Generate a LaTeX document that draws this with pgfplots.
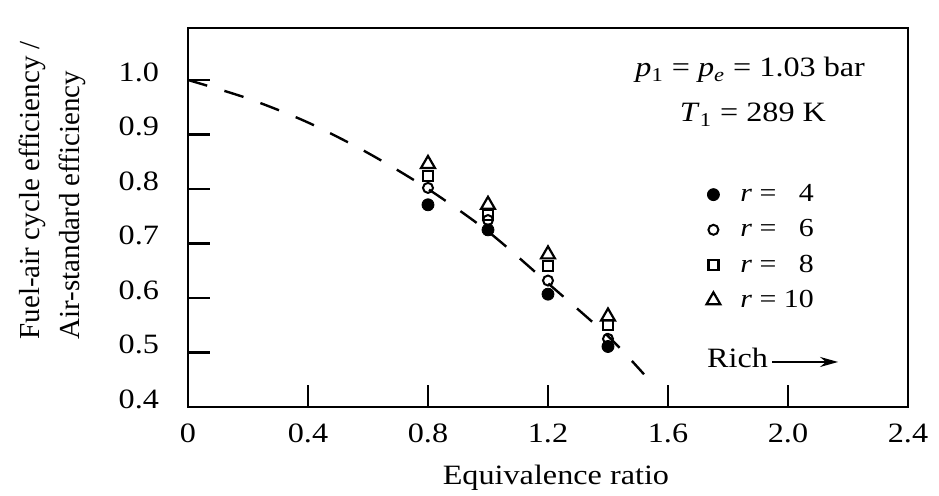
\documentclass[border=0pt]{standalone}
\usepackage{pgfplots}
\pgfplotsset{compat=1.18}
\usepackage{fontspec}
\setmainfont{Liberation Serif}[FakeStretch=1.15]
\newfontfamily\ylabfont{Liberation Serif}
\usetikzlibrary{arrows.meta}
\begin{document}
\begin{tikzpicture}[font=\fontsize{14}{17}\selectfont]
\path[use as bounding box] (-94pt,-44.5pt) rectangle (375.5pt,203.5pt);
\begin{axis}[
  at={(0,0)}, anchor=south west,
  scale only axis, width=360pt, height=189.5pt,
  xmin=0, xmax=2.4, ymin=0.4, ymax=1.0954,
  axis line style={line width=1.4pt},
  xtick={0,0.4,0.8,1.2,1.6,2.0,2.4},
  xticklabels={0,0.4,0.8,1.2,1.6,2.0,2.4},
  ytick={0.4,0.5,0.6,0.7,0.8,0.9,1.0},
  yticklabels={0.4,0.5,0.6,0.7,0.8,0.9,1.0},
  tick align=inside, tick pos=left,
  major tick length=11pt,
  tick style={line width=1.2pt, black},
  tick label style={font=\fontsize{14}{16}\selectfont},
  xticklabel style={yshift=-5pt},
  yticklabel style={xshift=-11pt, yshift=4pt},
  clip=false,
  legend cell align=left,
  legend style={at={(axis cs:1.707,0.8235)}, anchor=north west, draw=none, fill=none,
    font=\fontsize{13}{15}\selectfont, row sep=3.5pt,
    /tikz/every odd column/.append style={column sep=8pt}},
]
\addplot[black, line width=1.2pt, dash pattern=on 10pt off 9pt, smooth, forget plot] coordinates {
 (0,1.0) (0.2,0.966) (0.4,0.922) (0.6,0.866) (0.8,0.800) (1.0,0.722) (1.2,0.627) (1.4,0.530) (1.52,0.460)};
\addplot[only marks, mark=*, mark size=3pt, black] coordinates {
 (0.8,0.771) (1.0,0.725) (1.2,0.607) (1.4,0.511)};
\addlegendentry{\textit{r} = \hphantom{1}4}
\addplot[only marks, mark=o, mark size=2.5pt, black, mark options={line width=1pt}] coordinates {
 (0.8,0.802) (1.0,0.743) (1.2,0.632) (1.4,0.525)};
\addlegendentry{\textit{r} = \hphantom{1}6}
\addplot[only marks, mark=square, mark size=2.5pt, black, mark options={line width=1.1pt}] coordinates {
 (0.8,0.824) (1.0,0.752) (1.2,0.659) (1.4,0.550)};
\addlegendentry{\textit{r} = \hphantom{1}8}
\addplot[only marks, mark=triangle, mark size=4pt, black, mark options={line width=1.1pt}] coordinates {
 (0.8,0.846) (1.0,0.771) (1.2,0.680) (1.4,0.566)};
\addlegendentry{\textit{r} = 10}
\node[anchor=base east] at (axis cs:2.28,1.0055) {\textit{p}\textsubscript{1} = \textit{p}\textsubscript{\textit{e}} = 1.03 bar};
\node[anchor=base east] at (axis cs:2.15,0.923) {\textit{T}\textsubscript{1} = 289 K};
\node[anchor=base west] at (axis cs:1.707,0.4716) {Rich};
\draw[line width=1pt, -{Stealth[length=9pt,width=5pt]}] (axis cs:1.947,0.4826) -- (axis cs:2.167,0.4826);
\node[rotate=90, anchor=west, font=\ylabfont\fontsize{14.5}{17}\selectfont] at (rel axis cs:-0.2167,0.16) {Fuel-air cycle efficiency /};
\node[rotate=90, anchor=west, font=\ylabfont\fontsize{14.5}{17}\selectfont] at (rel axis cs:-0.161,0.16) {Air-standard efficiency};
\node[anchor=base, yshift=-39pt] at (rel axis cs:0.511,0) {Equivalence ratio};
\end{axis}
\end{tikzpicture}
\end{document}
